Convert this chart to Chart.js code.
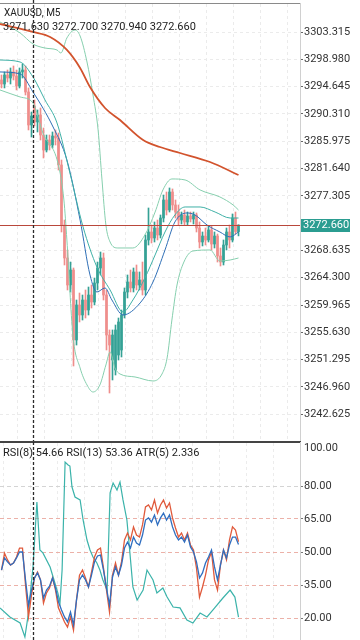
<!DOCTYPE html>
<html>
<head>
<meta charset="utf-8">
<script src="https://cdn.jsdelivr.net/npm/chart.js@4.4.1/dist/chart.umd.min.js"></script>
<style>
  html, body { margin: 0; padding: 0; background: #fff; }
  body { width: 360px; height: 640px; position: relative; overflow: hidden; font-family: Roboto, sans-serif; }
  #main { position: absolute; left: 0; top: 0; }
  #osc { position: absolute; left: 0; top: 436px; }
  .lbl { position: absolute; color: #222; white-space: nowrap; line-height: 1; }
</style>
</head>
<body>
<canvas id="main" width="360" height="442"></canvas>
<canvas id="osc" width="360" height="204"></canvas>
<div class="lbl" style="left:4px;top:8px;font-size:10px">XAUUSD, M5</div>
<div class="lbl" style="left:3px;top:21px;font-size:11px">3271.630 3272.700 3270.940 3272.660</div>
<div class="lbl" style="left:3px;top:447px;font-size:11px">RSI(8) 54.66 RSI(13) 53.36 ATR(5) 2.336</div>
<script>
// candles (M5), oldest -> newest
const opens = [
  3295.70, 3295.06, 3296.49, 3296.01, 3296.97, 3296.33, 3294.74, 3296.97, 3297.28, 3293.79,
  3288.55, 3291.57, 3289.03, 3290.14, 3286.96, 3284.58, 3286.17, 3285.37, 3286.80, 3286.49,
  3282.20, 3272.67, 3267.43, 3263.14, 3265.52, 3254.41, 3259.97, 3258.38, 3260.76, 3259.17,
  3261.55, 3260.44, 3263.46, 3265.84, 3267.43, 3261.55, 3255.20, 3251.23, 3249.64, 3252.03,
  3252.82, 3258.38, 3262.03, 3263.62, 3262.67, 3265.21, 3263.14, 3263.94, 3262.35, 3270.29,
  3271.56, 3270.61, 3272.19, 3271.08, 3273.78, 3276.64, 3275.05, 3277.91, 3275.85, 3274.73,
  3273.46, 3274.26, 3273.15, 3274.10, 3273.62, 3274.26, 3272.19, 3269.97, 3270.92, 3270.29,
  3271.88, 3269.65, 3270.92, 3267.75, 3266.79, 3269.49, 3271.56, 3270.29, 3273.78, 3271.63];
const highs = [
  3296.49, 3296.97, 3297.28, 3297.60, 3297.92, 3297.28, 3297.60, 3298.24, 3297.92, 3294.43,
  3290.61, 3292.52, 3290.93, 3291.25, 3288.07, 3286.96, 3286.96, 3287.44, 3287.76, 3287.28,
  3282.99, 3273.46, 3268.70, 3266.79, 3265.84, 3260.76, 3261.87, 3261.55, 3262.35, 3262.82,
  3263.14, 3264.25, 3266.79, 3268.38, 3268.22, 3262.35, 3256.00, 3256.00, 3256.79, 3257.90,
  3259.17, 3262.67, 3264.73, 3265.52, 3265.84, 3266.32, 3265.21, 3266.79, 3271.08, 3275.37,
  3272.67, 3273.15, 3273.46, 3274.26, 3277.43, 3277.91, 3278.55, 3278.39, 3276.64, 3275.85,
  3274.73, 3275.05, 3274.73, 3274.73, 3274.73, 3274.58, 3273.15, 3271.56, 3272.19, 3272.51,
  3272.51, 3271.56, 3271.24, 3269.02, 3270.29, 3272.19, 3272.67, 3274.42, 3274.73, 3272.70];
const lows = [
  3294.43, 3294.43, 3295.38, 3295.06, 3295.70, 3294.11, 3294.43, 3296.01, 3293.31, 3287.76,
  3286.64, 3288.39, 3287.44, 3286.17, 3283.31, 3284.26, 3284.58, 3284.90, 3285.37, 3281.40,
  3271.56, 3266.32, 3262.35, 3262.03, 3250.28, 3253.61, 3257.27, 3257.58, 3257.90, 3258.38,
  3259.49, 3259.97, 3262.35, 3264.73, 3260.76, 3252.82, 3245.99, 3248.06, 3248.85, 3251.23,
  3251.71, 3257.90, 3261.08, 3262.03, 3262.03, 3262.35, 3262.35, 3261.55, 3261.55, 3269.49,
  3269.81, 3269.97, 3270.29, 3270.61, 3273.15, 3274.26, 3274.73, 3275.05, 3273.78, 3272.67,
  3272.83, 3272.67, 3272.67, 3273.15, 3272.83, 3271.56, 3269.02, 3269.34, 3269.49, 3269.97,
  3268.70, 3269.02, 3266.79, 3266.16, 3266.32, 3268.70, 3269.02, 3269.97, 3271.24, 3270.94];
const closes = [
  3295.06, 3296.49, 3296.01, 3296.97, 3296.33, 3294.74, 3296.97, 3297.28, 3293.79, 3288.55,
  3289.98, 3289.03, 3290.14, 3286.96, 3284.58, 3286.17, 3285.37, 3286.80, 3286.49, 3282.20,
  3272.67, 3267.43, 3263.14, 3265.52, 3254.41, 3259.97, 3258.38, 3260.76, 3259.17, 3261.55,
  3260.44, 3263.46, 3265.84, 3267.43, 3261.55, 3255.20, 3253.61, 3255.20, 3256.00, 3257.27,
  3258.38, 3262.03, 3263.62, 3262.67, 3265.21, 3263.14, 3263.94, 3262.35, 3270.29, 3271.56,
  3270.61, 3272.19, 3271.08, 3273.78, 3276.64, 3275.05, 3277.91, 3275.85, 3274.73, 3273.46,
  3274.26, 3273.15, 3274.10, 3273.62, 3274.26, 3272.19, 3269.97, 3270.92, 3270.29, 3271.88,
  3269.65, 3270.92, 3267.75, 3266.79, 3269.49, 3271.56, 3270.29, 3273.78, 3271.63, 3272.66];
const lastPrice = 3272.66;

// overlay lines, read at selected bar positions
const maIdx = [-0.5, 10.5, 16.2, 21.8, 26.2, 29.5, 34.5, 39.5, 47.2, 52.8, 59.5, 69.5, 79];
const maVal = [3304.59, 3303.32, 3302.52, 3300.46, 3297.60, 3294.58, 3291.25, 3289.34, 3286.17, 3285.05, 3284.10, 3282.67, 3280.61];
const bbUpIdx = [-0.5, 6.2, 10.5, 14.5, 18.5, 19.8, 21.8, 24.5, 26.2, 28.5, 30.5, 32.2, 33.5, 34.8, 36.2, 38.8, 43.8, 47.8, 51.2, 53.8, 56.8, 61.2, 66.2, 72.8, 77.2, 79];
const bbUpVal = [3304.90, 3303.16, 3301.41, 3300.77, 3300.46, 3299.98, 3302.37, 3303.63, 3302.68, 3298.55, 3293.31, 3287.76, 3279.82, 3272.67, 3269.97, 3269.02, 3269.02, 3271.08, 3274.73, 3278.23, 3279.98, 3279.82, 3278.23, 3277.12, 3275.85, 3275.05];
const bbLowIdx = [-0.5, 6.2, 10.5, 13.8, 18.8, 20.8, 21.8, 23.8, 26.2, 28.5, 30.5, 32.8, 34.8, 36.2, 37.8, 39.5, 44.5, 50.5, 53.5, 55.2, 56.8, 58.5, 60.8, 63.8, 69.5, 72.8, 76.2, 79];
const bbLowVal = [3294.11, 3293.00, 3292.04, 3287.28, 3282.52, 3276.64, 3270.29, 3255.20, 3249.97, 3247.27, 3246.15, 3247.27, 3250.44, 3252.51, 3249.97, 3249.01, 3248.54, 3247.90, 3249.01, 3251.55, 3257.58, 3263.14, 3266.79, 3268.54, 3268.70, 3266.95, 3267.11, 3267.43];
const fastIdx = [-0.5, 6.2, 10.5, 14.5, 18.5, 22.8, 27.2, 31.8, 36.2, 40.5, 43.8, 47.8, 51.2, 54.5, 57.8, 61.2, 66.2, 71.2, 76.2, 79];
const fastVal = [3298.87, 3298.55, 3296.17, 3292.52, 3288.87, 3280.93, 3272.35, 3266.00, 3262.35, 3258.86, 3260.76, 3264.25, 3267.91, 3271.56, 3274.26, 3275.53, 3275.53, 3274.73, 3273.78, 3273.78];
const midIdx = [-0.5, 6.2, 10.5, 17.2, 21.8, 26.2, 29.5, 31.8, 34.5, 36.8, 40.5, 46.2, 50.5, 54.5, 57.8, 61.8, 64.5, 68.5, 72.8, 76.2, 79];
const midVal = [3296.97, 3296.65, 3293.79, 3288.23, 3282.99, 3273.46, 3264.73, 3262.03, 3262.67, 3260.76, 3258.38, 3260.29, 3263.62, 3268.70, 3273.15, 3274.58, 3274.26, 3272.67, 3271.56, 3270.77, 3271.56];

// oscillators
const rsi8 = [41.8, 49.5, 46.4, 44.1, 45.0, 47.7, 51.8, 51.8, 35.0, 20.5,
  30.5, 38.2, 40.9, 37.3, 26.8, 31.4, 33.6, 38.2, 32.7, 24.5,
  21.4, 18.2, 15.9, 20.5, 14.5, 28.2, 39.5, 41.8, 38.2, 34.1,
  40.9, 47.7, 50.9, 51.8, 42.7, 32.7, 22.7, 39.5, 45.0, 39.5,
  45.5, 55.5, 58.6, 55.5, 61.4, 57.7, 56.8, 62.3, 70.5, 71.4,
  69.1, 73.6, 67.7, 71.4, 73.6, 70.0, 72.3, 65.5, 60.9, 56.8,
  58.6, 55.5, 58.6, 53.2, 50.9, 42.7, 29.5, 34.1, 39.5, 46.4,
  50.0, 37.3, 32.7, 44.1, 50.9, 46.4, 55.5, 61.4, 60.0, 54.66];
const rsi13 = [41.8, 47.3, 45.5, 44.1, 45.0, 47.3, 50.0, 50.0, 37.3, 25.9,
  32.7, 38.2, 40.5, 37.3, 29.1, 32.7, 34.5, 38.2, 33.6, 27.3,
  23.6, 20.5, 18.2, 22.7, 16.8, 28.2, 37.3, 39.5, 37.3, 34.1,
  39.5, 45.5, 48.2, 48.6, 41.8, 33.6, 25.9, 38.6, 43.2, 39.5,
  44.1, 51.8, 54.5, 51.8, 56.8, 54.1, 53.2, 57.7, 64.5, 65.5,
  63.6, 66.8, 62.3, 65.5, 67.7, 64.5, 66.8, 61.4, 57.7, 55.5,
  56.8, 54.5, 57.7, 52.3, 50.0, 45.5, 38.2, 40.5, 45.0, 47.7,
  50.9, 43.2, 37.3, 44.1, 50.9, 47.3, 53.2, 56.8, 56.8, 53.36];
const atrIdx = [-0.5, 2.8, 6.2, 7.8, 8.8, 10.5, 11.8, 12.8, 13.8, 16.2, 17.2, 18.8, 19.5, 20.2, 21.2, 22.2, 22.8, 23.5, 24.5, 26.2,
  27.2, 28.5, 29.5, 30.5, 31.8, 32.8, 33.8, 35.2, 36.2, 37.2, 38.5, 39.5, 40.5, 41.8, 42.8, 43.8, 45.2, 47.2, 48.5, 50.5,
  51.8, 53.8, 55.2, 57.2, 59.5, 61.8, 63.8, 66.2, 68.5, 70.5, 73.8, 76.2, 77.8, 79];
const atrVal = [2.83, 2.34, 2.01, 1.25, 2.34, 5.05, 8.59, 5.98, 5.82, 5.05, 4.51, 3.64, 3.10, 4.89, 10.76, 10.60, 10.54, 9.40, 8.86, 8.70,
  7.61, 6.52, 5.98, 5.60, 5.27, 4.89, 4.35, 3.80, 9.08, 9.62, 9.24, 9.67, 8.70, 7.61, 5.82, 3.97, 3.26, 3.80, 4.89, 4.35,
  3.64, 3.91, 3.42, 2.88, 2.83, 2.17, 2.01, 2.55, 2.34, 2.72, 3.37, 3.80, 3.42, 2.336];

// axis ticks
const priceTicks = [3303.315, 3298.980, 3294.645, 3290.310, 3285.975, 3281.640, 3277.305,
  3268.635, 3264.300, 3259.965, 3255.630, 3251.295, 3246.960, 3242.625];
const rsiTicks = [100, 80, 65, 50, 35, 20];
const gridIdx = [0.83, 9.83, 18.83, 27.83, 36.83, 45.83, 54.83, 63.83, 72.83, 81.83, 90.83];
const crossIdx = 10.5;

const UP = '#35a195';
const DOWN = '#ef8e8c';
const FONT = {family: 'Roboto', size: 11};

const bars = opens.map((o, i) => i);
const pts = (xs, ys) => xs.map((x, i) => ({x: x, y: ys[i]}));
const candleColor = bars.map(i => closes[i] >= opens[i] ? UP : DOWN);

let line = (data, color, width, order) => ({
  type: 'line', data: data, borderColor: color, borderWidth: width,
  pointRadius: 0, cubicInterpolationMode: 'monotone', order: order
});

// keep the plot area flush with the canvas edges: labels may overhang
let fitRight = s => { s.width = 60; s.paddingTop = 0; s.paddingBottom = 0; };
let fitTop = s => { s.height = 0; s.paddingLeft = 0; s.paddingRight = 0; };

const crosshair = {
  id: 'crosshair',
  afterDatasetsDraw(chart) {
    const {ctx, chartArea, scales} = chart;
    const x = Math.round(scales.x.getPixelForValue(crossIdx)) + 0.5;
    const top = chart.canvas.id === 'main' ? 0 : chartArea.top;
    ctx.save();
    ctx.strokeStyle = '#2a2a2a';
    ctx.lineWidth = 1.3;
    ctx.setLineDash([3, 2]);
    ctx.beginPath();
    ctx.moveTo(x, top);
    ctx.lineTo(x, chartArea.bottom);
    ctx.stroke();
    ctx.restore();
  }
};

const priceLine = {
  id: 'priceLine',
  afterDatasetsDraw(chart) {
    const {ctx, chartArea, scales} = chart;
    const y = Math.round(scales.y.getPixelForValue(lastPrice)) + 0.5;
    ctx.save();
    ctx.strokeStyle = '#b9473b';
    ctx.lineWidth = 1;
    ctx.beginPath();
    ctx.moveTo(chartArea.left, y);
    ctx.lineTo(chartArea.right, y);
    ctx.stroke();
    ctx.restore();
  },
  afterDraw(chart) {
    const {ctx, chartArea, scales} = chart;
    const y = scales.y.getPixelForValue(lastPrice);
    ctx.save();
    ctx.fillStyle = '#2b9d91';
    ctx.fillRect(chartArea.right + 1, Math.round(y - 6.5), 49, 13);
    ctx.fillStyle = '#fff';
    ctx.font = '11px Roboto';
    ctx.textBaseline = 'middle';
    ctx.fillText(lastPrice.toFixed(3), chartArea.right + 3, y + 0.5);
    ctx.restore();
  }
};

new Chart(document.getElementById('main'), {
  type: 'bar',
  data: {
    datasets: [
      line(pts(maIdx, maVal), '#d2532d', 1.8, 0),
      line(pts(bbUpIdx, bbUpVal), '#86cfae', 1, 0),
      line(pts(bbLowIdx, bbLowVal), '#86cfae', 1, 0),
      line(pts(fastIdx, fastVal), '#3fb0a6', 1, 0),
      line(pts(midIdx, midVal), '#2f6fb6', 1, 0),
      {
        type: 'bar', data: bars.map(i => ({x: i, y: [lows[i], highs[i]]})),
        backgroundColor: candleColor, barThickness: 1, grouped: false, borderWidth: 0, order: 2
      },
      {
        type: 'bar', data: bars.map(i => ({x: i, y: [opens[i], closes[i]]})),
        backgroundColor: candleColor, barThickness: 2, grouped: false, borderWidth: 0, minBarLength: 1, order: 1
      }
    ]
  },
  options: {
    responsive: false, animation: false, devicePixelRatio: 1,
    layout: {padding: {top: 3, bottom: 1, left: 0, right: 0}},
    plugins: {legend: {display: false}, tooltip: {enabled: false}},
    scales: {
      x: {
        type: 'linear', position: 'top', min: -0.5, max: 99.5, offset: false, bounds: 'data',
        afterBuildTicks: s => { s.ticks = gridIdx.map(v => ({value: v})); },
        afterFit: fitTop,
        ticks: {display: false},
        grid: {color: '#ebebeb', drawTicks: false},
        border: {color: '#8a8a8a', width: 1, dash: [3, 3]}
      },
      y: {
        position: 'right', min: 3238.37, max: 3307.92, bounds: 'data',
        afterBuildTicks: s => { s.ticks = priceTicks.map(v => ({value: v})); },
        afterFit: fitRight,
        ticks: {font: FONT, color: '#333', padding: 1, autoSkip: false, callback: v => v.toFixed(3)},
        grid: {color: '#ebebeb', tickLength: 3, tickColor: '#666'},
        border: {color: '#d0d0d0', dash: [3, 3]}
      }
    }
  },
  plugins: [priceLine, crosshair]
});

new Chart(document.getElementById('osc'), {
  type: 'line',
  data: {
    datasets: [
      {data: pts(atrIdx, atrVal), yAxisID: 'y2', borderColor: '#3bb3aa', borderWidth: 1.2, pointRadius: 0, tension: 0, order: 2},
      {data: pts(bars, rsi8), borderColor: '#e05a3c', borderWidth: 1.3, pointRadius: 0, tension: 0, order: 1},
      {data: pts(bars, rsi13), borderColor: '#2f6ec0', borderWidth: 1.3, pointRadius: 0, tension: 0, order: 0}
    ]
  },
  options: {
    responsive: false, animation: false, devicePixelRatio: 1,
    layout: {padding: {top: 6, bottom: 0, left: 0, right: 0}},
    plugins: {legend: {display: false}, tooltip: {enabled: false}},
    scales: {
      x: {
        type: 'linear', position: 'top', min: -0.5, max: 99.5, offset: false, bounds: 'data',
        afterBuildTicks: s => { s.ticks = gridIdx.map(v => ({value: v})); },
        afterFit: fitTop,
        ticks: {display: false},
        grid: {color: '#ececec', drawTicks: false},
        border: {color: '#444', width: 2, dash: [3, 3]}
      },
      y: {
        position: 'right', min: 10, max: 100, bounds: 'data',
        afterBuildTicks: s => { s.ticks = rsiTicks.map(v => ({value: v})); },
        afterFit: fitRight,
        ticks: {font: FONT, color: '#333', padding: 1, autoSkip: false,
          callback: v => v === 100 ? ['', '100.00'] : v.toFixed(2)},
        grid: {
          color: c => !c.tick ? '#ececec' : c.tick.value === 100 ? 'rgba(0,0,0,0)' : c.tick.value === 80 ? '#d4d4d4' : '#ecb1a8',
          tickColor: c => c.tick && c.tick.value === 100 ? 'rgba(0,0,0,0)' : '#777',
          tickLength: 3
        },
        border: {color: '#d0d0d0', dash: [4, 3]}
      },
      y2: {display: false, min: 1.087, max: 11.848}
    }
  },
  plugins: [crosshair]
});
</script>
</body>
</html>
